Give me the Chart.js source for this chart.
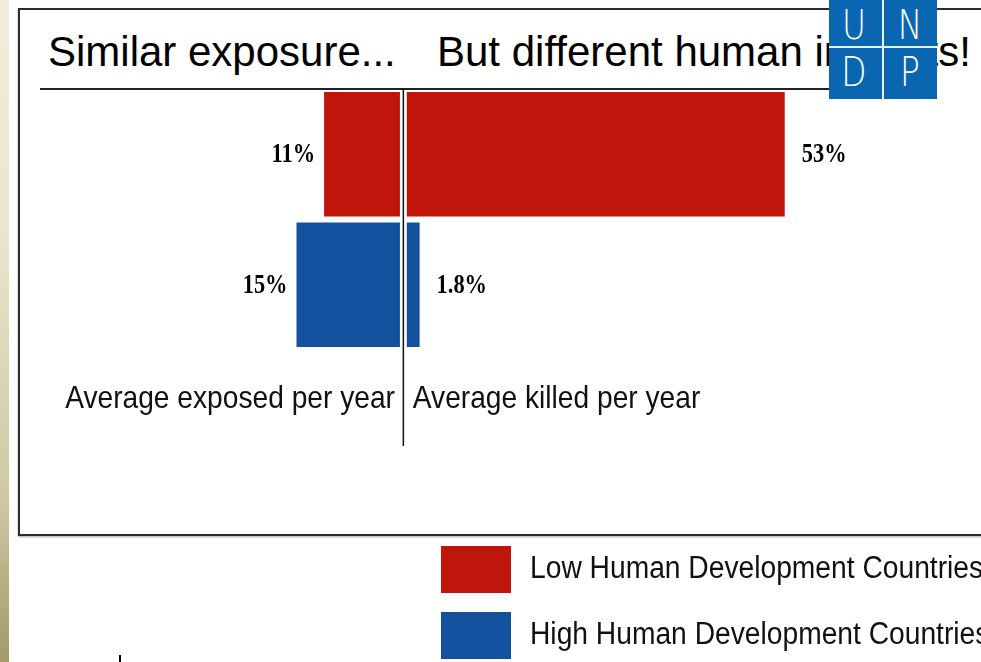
<!DOCTYPE html>
<html>
<head>
<meta charset="utf-8">
<script src="https://cdn.jsdelivr.net/npm/chart.js@4.4.1/dist/chart.umd.min.js"></script>
<style>
  html, body { margin: 0; padding: 0; background: #fff; }
  body { width: 981px; height: 662px; position: relative; overflow: hidden; font-family: "Liberation Sans", Arial, sans-serif; }
  .strip { position: absolute; left: 0; top: 0; width: 9px; height: 662px;
    background: linear-gradient(#f2eddb 0%, #ebe5cc 35%, #cfc8a3 75%, #a39a68 100%); }
  .frame { position: absolute; left: 18px; top: 8px; width: 1000px; height: 524px;
    border: 2px solid #2b2b2b; box-shadow: 0 1px 2px rgba(0,0,0,0.35); }
  .title { position: absolute; top: 28px; font-size: 42px; color: #000; white-space: nowrap; line-height: 48px; }
  .rule { position: absolute; left: 40px; top: 88px; width: 860px; height: 2px; background: #222; }
  #wrap { position: absolute; left: 0; top: 0; width: 981px; height: 662px; }
  .logo { position: absolute; left: 829px; top: 0; width: 108px; height: 99px; background: #0b66b2; overflow: hidden; }
  .logo .v { position: absolute; left: 53px; top: 0; width: 2px; height: 99px; background: #e8f0f8; }
  .logo .h { position: absolute; left: 0; top: 46px; width: 108px; height: 2px; background: #e8f0f8; }
  .logo span { position: absolute; width: 54px; text-align: center; color: #fff; font-size: 40px;
    line-height: 42px; transform: scaleX(0.82); font-family: "DejaVu Sans", sans-serif; font-weight: 200; }
  .legend { position: absolute; left: 441px; top: 546px; }
  .legend .item { position: relative; height: 66px; }
  .legend .sw { position: absolute; left: 0; top: 0; width: 70px; height: 47px; }
  .legend .txt { position: absolute; left: 89px; top: 4px; font-size: 31px; line-height: 36px;
    white-space: nowrap; transform: scaleX(0.91); transform-origin: left center; color: #111; }
  .tick { position: absolute; left: 119px; top: 655px; width: 2px; height: 7px; background: #000; }
</style>
</head>
<body>
<div class="strip"></div>
<div class="frame"></div>
<div class="title" style="left:48px">Similar exposure...</div>
<div class="title" style="left:437px">But different human impacts!</div>
<div class="rule"></div>
<div id="wrap"><canvas id="chart"></canvas></div>
<div class="logo">
  <div class="v"></div><div class="h"></div>
  <span style="left:-2px;top:4px">U</span><span style="left:54px;top:4px">N</span>
  <span style="left:-2px;top:51px">D</span><span style="left:54px;top:51px">P</span>
</div>
<div class="legend" id="legend"></div>
<div class="tick"></div>
<script>
  // Rows are country groups, the two sides are the two measures
  const groups = ["Low Human Development Countries", "High Human Development Countries"];
  const groupColors = ["#c0150a", "#13519f"];
  const metricNames = ["Average exposed per year", "Average killed per year"];
  const exposedPct = [11, 15];
  const killedPct = [53, 1.8];

  const LABEL_FONT = 'bold 28px "Liberation Serif", "Times New Roman", serif';
  const CAPTION_FONT = '32px "Liberation Sans", Arial, sans-serif';

  // value labels beside each bar, condensed like the printed figures
  const barLabels = {
    id: "barLabels",
    afterDatasetsDraw(chart) {
      const ctx = chart.ctx;
      ctx.save();
      ctx.font = LABEL_FONT;
      ctx.fillStyle = "#000";
      ctx.textBaseline = "middle";
      chart.data.datasets.forEach((ds, di) => {
        const meta = chart.getDatasetMeta(di);
        meta.data.forEach((bar, i) => {
          const left = bar.x < bar.base;
          const tx = left ? bar.x - 9 : bar.x + 17;
          ctx.save();
          ctx.translate(tx, bar.y + 1);
          ctx.scale(0.8, 1);
          ctx.textAlign = left ? "right" : "left";
          ctx.fillText(ds.data[i] + "%", 0, 0);
          ctx.restore();
        });
      });
      ctx.restore();
    },
  };

  // divider between the two halves plus the caption under each half
  const divider = {
    id: "divider",
    afterDraw(chart) {
      const ctx = chart.ctx;
      const zl = chart.scales.xL.getPixelForValue(0);
      const zr = chart.scales.xR.getPixelForValue(0);
      const mid = (zl + zr) / 2;
      ctx.save();
      ctx.strokeStyle = "#111";
      ctx.lineWidth = 1.5;
      ctx.beginPath();
      ctx.moveTo(mid, chart.chartArea.top);
      ctx.lineTo(mid, 446);
      ctx.stroke();

      ctx.font = CAPTION_FONT;
      ctx.fillStyle = "#111";
      ctx.textBaseline = "middle";
      ctx.save();
      ctx.translate(zl - 5, 399);
      ctx.scale(0.88, 1);
      ctx.textAlign = "right";
      ctx.fillText(metricNames[0], 0, 0);
      ctx.restore();
      ctx.save();
      ctx.translate(zr + 6, 399);
      ctx.scale(0.88, 1);
      ctx.textAlign = "left";
      ctx.fillText(metricNames[1], 0, 0);
      ctx.restore();
      ctx.restore();
    },
  };

  new Chart(document.getElementById("chart"), {
    type: "bar",
    data: {
      labels: groups,
      datasets: [
        {
          label: metricNames[0],
          data: exposedPct,
          xAxisID: "xL",
          backgroundColor: groupColors,
          grouped: false,
          barPercentage: 0.954,
          categoryPercentage: 1,
        },
        {
          label: metricNames[1],
          data: killedPct,
          xAxisID: "xR",
          backgroundColor: groupColors,
          grouped: false,
          barPercentage: 0.954,
          categoryPercentage: 1,
        },
      ],
    },
    options: {
      indexAxis: "y",
      responsive: true,
      maintainAspectRatio: false,
      animation: false,
      layout: { padding: { top: 89, bottom: 312, left: 11, right: 8 } },
      plugins: { legend: { display: false }, tooltip: { enabled: false } },
      scales: {
        y: { display: false },
        xL: { type: "linear", axis: "x", position: "bottom", reverse: true, min: -83.1, max: 56.4, display: false },
        xR: { type: "linear", axis: "x", position: "bottom", min: -55.5, max: 79.4, display: false },
      },
    },
    plugins: [barLabels, divider],
  });

  const legend = document.getElementById("legend");
  legend.innerHTML = groups
    .map(
      (g, i) =>
        `<div class="item"><div class="sw" style="background:${groupColors[i]}"></div><div class="txt">${g}</div></div>`
    )
    .join("");
</script>
</body>
</html>
